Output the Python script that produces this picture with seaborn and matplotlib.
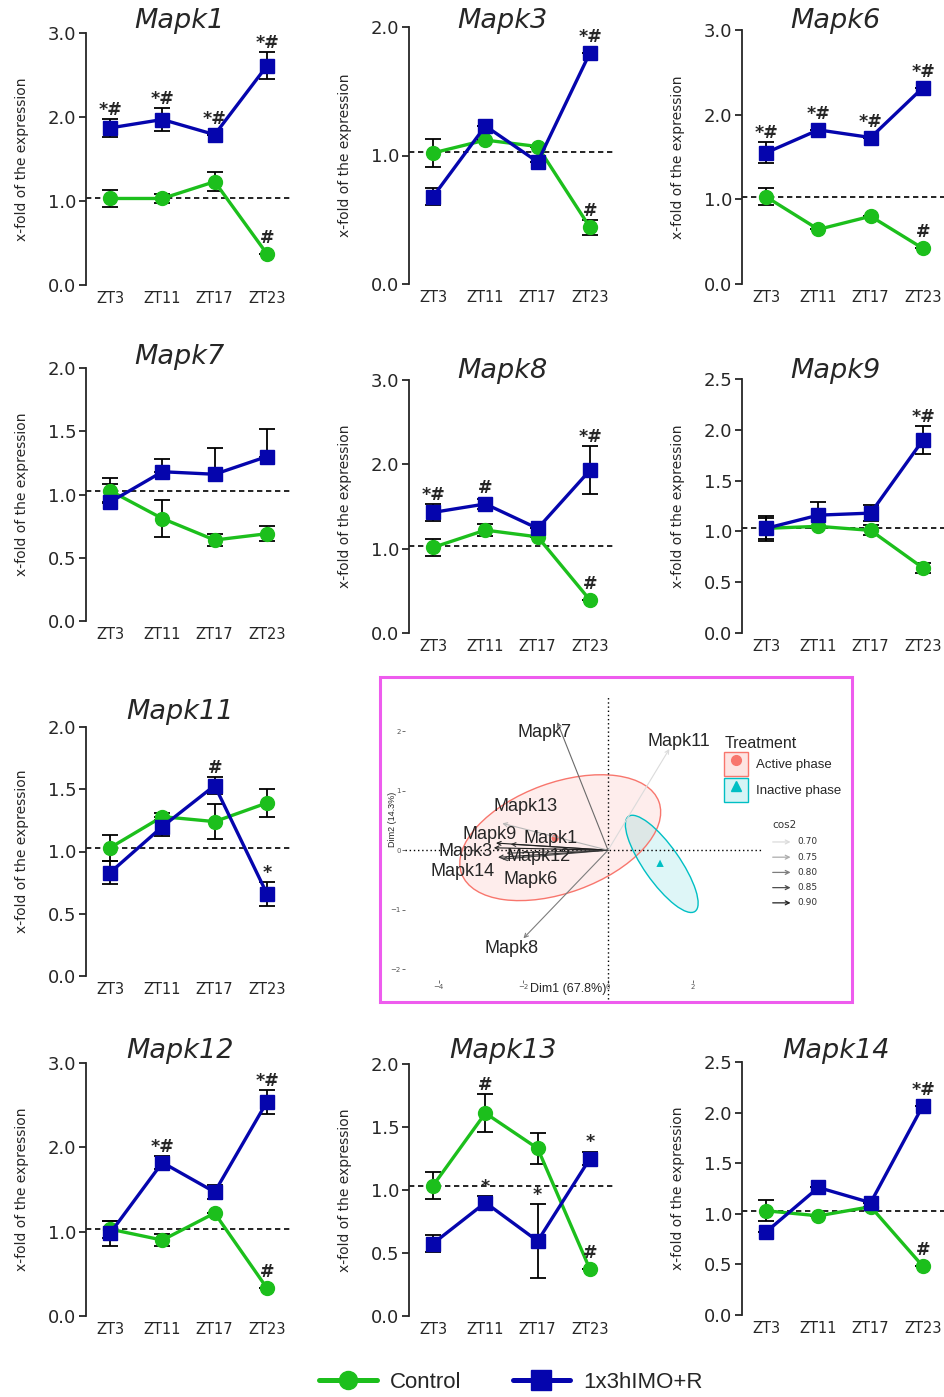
import matplotlib
matplotlib.use('Agg')
import matplotlib.pyplot as plt
import seaborn as sns
import numpy as np
import pandas as pd
from matplotlib.lines import Line2D
from matplotlib.patches import Patch, Rectangle, Ellipse
from matplotlib.legend_handler import HandlerTuple
from matplotlib.transforms import ScaledTranslation

# ---- data ----
zt = ['ZT3', 'ZT11', 'ZT17', 'ZT23']

ctrl_mapk1 = [1.03, 1.03, 1.23, 0.37]
ctrl_mapk1_err = [0.10, 0.05, 0.11, 0.0]
trt_mapk1 = [1.87, 1.97, 1.79, 2.61]
trt_mapk1_err = [0.11, 0.14, 0.0, 0.16]
ctrl_mapk1_sig = ['', '', '', '#']
trt_mapk1_sig = ['*#', '*#', '*#', '*#']

ctrl_mapk3 = [1.02, 1.12, 1.07, 0.44]
ctrl_mapk3_err = [0.11, 0.0, 0.0, 0.06]
trt_mapk3 = [0.68, 1.23, 0.95, 1.80]
trt_mapk3_err = [0.065, 0.0, 0.0, 0.0]
ctrl_mapk3_sig = ['', '', '', '#']
trt_mapk3_sig = ['', '', '', '*#']

ctrl_mapk6 = [1.03, 0.645, 0.80, 0.42]
ctrl_mapk6_err = [0.10, 0.0, 0.0, 0.0]
trt_mapk6 = [1.55, 1.82, 1.73, 2.32]
trt_mapk6_err = [0.125, 0.0, 0.0, 0.0]
ctrl_mapk6_sig = ['', '', '', '#']
trt_mapk6_sig = ['*#', '*#', '*#', '*#']

ctrl_mapk7 = [1.03, 0.81, 0.64, 0.69]
ctrl_mapk7_err = [0.10, 0.145, 0.045, 0.06]
trt_mapk7 = [0.94, 1.18, 1.16, 1.30]
trt_mapk7_err = [0.14, 0.10, 0.21, 0.22]
trt_mapk7_err_lo = [0.0, 0.0, 0.0, 0.0]
ctrl_mapk7_sig = ['', '', '', '']
trt_mapk7_sig = ['', '', '', '']

ctrl_mapk8 = [1.015, 1.22, 1.14, 0.39]
ctrl_mapk8_err = [0.10, 0.07, 0.0, 0.0]
trt_mapk8 = [1.43, 1.53, 1.24, 1.93]
trt_mapk8_err = [0.105, 0.06, 0.0, 0.285]
ctrl_mapk8_sig = ['', '', '', '#']
trt_mapk8_sig = ['*#', '#', '', '*#']

ctrl_mapk9 = [1.03, 1.05, 1.01, 0.64]
ctrl_mapk9_err = [0.10, 0.0, 0.05, 0.05]
trt_mapk9 = [1.03, 1.16, 1.18, 1.90]
trt_mapk9_err = [0.125, 0.13, 0.08, 0.135]
ctrl_mapk9_sig = ['', '', '', '']
trt_mapk9_sig = ['', '', '', '*#']

ctrl_mapk11 = [1.03, 1.28, 1.24, 1.39]
ctrl_mapk11_err = [0.105, 0.03, 0.14, 0.115]
trt_mapk11 = [0.83, 1.20, 1.53, 0.66]
trt_mapk11_err = [0.09, 0.075, 0.07, 0.095]
ctrl_mapk11_sig = ['', '', '', '']
trt_mapk11_sig = ['', '', '#', '*']

ctrl_mapk12 = [1.03, 0.90, 1.22, 0.33]
ctrl_mapk12_err = [0.10, 0.07, 0.0, 0.0]
trt_mapk12 = [0.98, 1.82, 1.47, 2.54]
trt_mapk12_err = [0.15, 0.08, 0.08, 0.145]
ctrl_mapk12_sig = ['', '', '', '#']
trt_mapk12_sig = ['', '*#', '', '*#']

ctrl_mapk13 = [1.035, 1.61, 1.33, 0.37]
ctrl_mapk13_err = [0.105, 0.15, 0.12, 0.0]
trt_mapk13 = [0.575, 0.90, 0.595, 1.25]
trt_mapk13_err = [0.065, 0.05, 0.29, 0.05]
ctrl_mapk13_sig = ['', '#', '', '#']
trt_mapk13_sig = ['', '*', '*', '*']

ctrl_mapk14 = [1.03, 0.98, 1.07, 0.48]
ctrl_mapk14_err = [0.105, 0.0, 0.0, 0.0]
trt_mapk14 = [0.82, 1.26, 1.11, 2.07]
trt_mapk14_err = [0.0, 0.0, 0.0, 0.0]
ctrl_mapk14_sig = ['', '', '', '#']
trt_mapk14_sig = ['', '', '', '*#']

# PCA biplot
pca_genes = ['Mapk1', 'Mapk3', 'Mapk6', 'Mapk7', 'Mapk8', 'Mapk9',
             'Mapk11', 'Mapk12', 'Mapk13', 'Mapk14']
pca_dim1 = [-2.30, -2.70, -2.50, -1.20, -2.00, -2.65, 1.45, -2.40, -2.50, -2.60]
pca_dim2 = [0.10, 0.04, -0.15, 2.15, -1.48, 0.12, 1.70, -0.05, 0.45, -0.12]
pca_cos2 = [0.86, 0.90, 0.86, 0.82, 0.80, 0.90, 0.70, 0.86, 0.74, 0.88]
label_dim1 = [-1.35, -3.38, -1.82, -1.51, -2.29, -2.81, 1.68, -1.65, -1.94, -3.45]
label_dim2 = [0.20, -0.03, -0.49, 1.98, -1.65, 0.27, 1.83, -0.10, 0.74, -0.35]
groups = ['Active phase', 'Inactive phase']
group_dim1 = [-1.25, 1.23]
group_dim2 = [0.20, -0.22]
cos2_levels = [0.70, 0.75, 0.80, 0.85, 0.90]

# ---- style ----
W, H = 944, 1397
GREEN = '#1cbf1c'
BLUE = '#0505ad'
RED = '#F8766D'
TEAL = '#00BFC4'
ARIAL = ['Liberation Sans', 'DejaVu Sans']

sns.set_style('ticks')
plt.rcParams['font.family'] = ['DejaVu Sans']

fig = plt.figure(figsize=(W / 100, H / 100), dpi=100)


def px_rect(x0, y0, x1, y1):
    return [x0 / W, 1 - y1 / H, (x1 - x0) / W, (y1 - y0) / H]


def cos2_gray(c):
    return str(round(0.86 - (c - 0.70) / 0.20 * 0.74, 3))


def draw_panel(name, ctrl, ctrl_err, trt, trt_err, ctrl_sig, trt_sig,
               ymax, step, box, trt_err_lo=None):
    left, top, bottom, title_y = box
    ax = fig.add_axes(px_rect(left, top, left + 204, bottom))
    x = np.arange(len(zt))
    df = pd.DataFrame({'x': x, 'ctrl': ctrl, 'trt': trt})
    lo = trt_err if trt_err_lo is None else trt_err_lo

    ax.axhline(1.03, color='black', ls=(0, (3.2, 2.2)), lw=1.2, zorder=1)
    ax.errorbar(x, ctrl, yerr=ctrl_err, fmt='none', ecolor='black',
                elinewidth=1.3, capsize=5.5, capthick=1.3, zorder=2)
    ax.errorbar(x, trt, yerr=[lo, trt_err], fmt='none', ecolor='black',
                elinewidth=1.3, capsize=5.5, capthick=1.3, zorder=2)
    sns.lineplot(data=df, x='x', y='ctrl', ax=ax, color=GREEN, lw=2.4,
                 marker='o', ms=10, mec=GREEN, mew=1, zorder=3, clip_on=False)
    sns.lineplot(data=df, x='x', y='trt', ax=ax, color=BLUE, lw=2.4,
                 marker='s', ms=10, mec=BLUE, mew=1, zorder=4, clip_on=False)

    ax.set_xlim(-0.46, 3.44)
    ax.set_ylim(0, ymax)
    ax.set_yticks(np.arange(0, ymax + 1e-9, step))
    ax.yaxis.set_major_formatter('{x:.1f}')
    ax.set_xticks(x, zt)
    for s in ['top', 'right', 'bottom']:
        ax.spines[s].set_visible(False)
    ax.spines['left'].set_linewidth(1.3)
    ax.tick_params(axis='y', labelsize=13, length=5, width=1.3, pad=2)
    ax.tick_params(axis='x', labelsize=10.5, length=0, pad=4)
    ax.set_xlabel('')
    ax.set_ylabel('x-fold of the expression', fontsize=10)
    ax.yaxis.set_label_coords(-0.28, 0.5)
    fig.text((left + 0.46 * 204) / W, 1 - title_y / H, name, ha='center',
             va='center', fontsize=19.5, style='italic')

    px_per_unit = (bottom - top) / ymax
    for vals, errs, sigs in [(ctrl, ctrl_err, ctrl_sig), (trt, trt_err, trt_sig)]:
        for xi, v, e, s in zip(x, vals, errs, sigs):
            if not s:
                continue
            off = (max(e * px_per_unit, 7) + 9) * 0.72
            ax.annotate(s, (xi, v), xytext=(0, off), textcoords='offset points',
                        ha='center', va='center', fontsize=12.5, fontweight='bold')
    return ax


draw_panel('Mapk1', ctrl_mapk1, ctrl_mapk1_err, trt_mapk1, trt_mapk1_err,
           ctrl_mapk1_sig, trt_mapk1_sig, 3.0, 1.0, (86, 33, 285, 21))
draw_panel('Mapk3', ctrl_mapk3, ctrl_mapk3_err, trt_mapk3, trt_mapk3_err,
           ctrl_mapk3_sig, trt_mapk3_sig, 2.0, 1.0, (409, 27, 284, 21))
draw_panel('Mapk6', ctrl_mapk6, ctrl_mapk6_err, trt_mapk6, trt_mapk6_err,
           ctrl_mapk6_sig, trt_mapk6_sig, 3.0, 1.0, (742, 30, 284, 21))
draw_panel('Mapk7', ctrl_mapk7, ctrl_mapk7_err, trt_mapk7, trt_mapk7_err,
           ctrl_mapk7_sig, trt_mapk7_sig, 2.0, 0.5, (86, 368, 621, 357),
           trt_err_lo=trt_mapk7_err_lo)
draw_panel('Mapk8', ctrl_mapk8, ctrl_mapk8_err, trt_mapk8, trt_mapk8_err,
           ctrl_mapk8_sig, trt_mapk8_sig, 3.0, 1.0, (409, 380, 633, 371))
draw_panel('Mapk9', ctrl_mapk9, ctrl_mapk9_err, trt_mapk9, trt_mapk9_err,
           ctrl_mapk9_sig, trt_mapk9_sig, 2.5, 0.5, (742, 379, 633, 371))
draw_panel('Mapk11', ctrl_mapk11, ctrl_mapk11_err, trt_mapk11, trt_mapk11_err,
           ctrl_mapk11_sig, trt_mapk11_sig, 2.0, 0.5, (86, 727, 976, 712))
draw_panel('Mapk12', ctrl_mapk12, ctrl_mapk12_err, trt_mapk12, trt_mapk12_err,
           ctrl_mapk12_sig, trt_mapk12_sig, 3.0, 1.0, (86, 1063, 1316, 1051))
draw_panel('Mapk13', ctrl_mapk13, ctrl_mapk13_err, trt_mapk13, trt_mapk13_err,
           ctrl_mapk13_sig, trt_mapk13_sig, 2.0, 0.5, (409, 1064, 1316, 1051))
draw_panel('Mapk14', ctrl_mapk14, ctrl_mapk14_err, trt_mapk14, trt_mapk14_err,
           ctrl_mapk14_sig, trt_mapk14_sig, 2.5, 0.5, (742, 1062, 1315, 1051))

# ---- PCA biplot ----
fig.add_artist(Rectangle((380 / W, 1 - 1002 / H), 472 / W, 325 / H,
                         transform=fig.transFigure, fill=False,
                         edgecolor='#ee5cee', lw=2.2))
pax = fig.add_axes(px_rect(405, 690, 762, 980))
pax.set_xlim(-4.8, 3.64)
pax.set_ylim(-2.18, 2.69)
for s in pax.spines.values():
    s.set_visible(False)
pax.axhline(0, color='black', ls=(0, (1, 2)), lw=1, zorder=1)
pax.axvline(0, ymin=-0.065, ymax=0.98, color='black', ls=(0, (1, 2)), lw=1,
            zorder=1, clip_on=False)

# confidence ellipses (size in inches, centred on data coords)
ell_dim1 = [-1.13, 1.27]
ell_dim2 = [0.21, -0.23]
ell_w = [2.10, 1.16]
ell_h = [1.10, 0.36]
ell_angle = [20, -55]
for cx, cy, w, h, a, col in zip(ell_dim1, ell_dim2, ell_w, ell_h, ell_angle, [RED, TEAL]):
    tr = fig.dpi_scale_trans + ScaledTranslation(cx, cy, pax.transData)
    pax.add_patch(Ellipse((0, 0), w, h, angle=a, transform=tr,
                          facecolor=col, alpha=0.13, edgecolor='none', zorder=0))
    pax.add_patch(Ellipse((0, 0), w, h, angle=a, transform=tr,
                          fill=False, edgecolor=col, lw=1, zorder=0.5))

sns.scatterplot(x=group_dim1, y=group_dim2, hue=groups, style=groups,
                markers=['o', '^'], palette=[RED, TEAL], s=28, legend=False,
                ax=pax, zorder=3, edgecolor='none')

for gx, gy, c in zip(pca_dim1, pca_dim2, pca_cos2):
    pax.annotate('', xy=(gx, gy), xytext=(0, 0),
                 arrowprops=dict(arrowstyle='->', color=cos2_gray(c), lw=0.8,
                                 shrinkA=0, shrinkB=0, mutation_scale=7))
for name, lx, ly in zip(pca_genes, label_dim1, label_dim2):
    pax.text(lx, ly, name, ha='center', va='center', fontsize=13,
             family=ARIAL, zorder=5)

pax.set_xticks([-4, -2, 0, 2])
pax.set_yticks([-2, -1, 0, 1, 2])
pax.tick_params(labelsize=5, length=2, width=0.6, pad=1, colors='#555555')
pax.set_xlabel('Dim1 (67.8%)', fontsize=9, family=ARIAL)
pax.xaxis.set_label_coords(0.458, -0.03)
pax.xaxis.label.set_va('center')
pax.set_ylabel('Dim2 (14.3%)', fontsize=6.5, family=ARIAL)
pax.yaxis.set_label_coords(-0.034, 0.555)
pax.yaxis.label.set_va('center')

tr_handles = [
    (Patch(facecolor='#fde4e2', edgecolor=RED, lw=1),
     Line2D([], [], marker='o', color=RED, ls='', ms=7)),
    (Patch(facecolor='#d6f4f5', edgecolor=TEAL, lw=1),
     Line2D([], [], marker='^', color=TEAL, ls='', ms=7)),
]
pax.legend(tr_handles, groups, handler_map={tuple: HandlerTuple(ndivide=1)},
           title='Treatment', loc='upper left', bbox_to_anchor=(0.88, 0.86),
           frameon=False, handlelength=1.8, handleheight=2.4,
           handletextpad=0.6, labelspacing=0.12, borderaxespad=0,
           prop={'family': ARIAL, 'size': 9.5},
           title_fontproperties={'family': ARIAL, 'size': 11.5},
           alignment='left')

pax.text(1.028, 0.534, 'cos2', transform=pax.transAxes, fontsize=7.5,
         ha='left', va='center', color='#333333')
for i, c in enumerate(cos2_levels):
    yy = 0.476 - i * 0.0525
    pax.annotate('', xy=(1.08, yy), xytext=(1.03, yy), xycoords='axes fraction',
                 arrowprops=dict(arrowstyle='->', color=cos2_gray(c), lw=0.9,
                                 shrinkA=0, shrinkB=0, mutation_scale=7))
    pax.text(1.098, yy, f'{c:.2f}', transform=pax.transAxes, fontsize=6.5,
             ha='left', va='center', color='#333333')

# ---- bottom legend ----
handles = [Line2D([], [], color=GREEN, lw=3.6, marker='o', ms=13),
           Line2D([], [], color=BLUE, lw=3.6, marker='s', ms=15)]
fig.legend(handles, ['Control', '1x3hIMO+R'], loc='center',
           bbox_to_anchor=(511 / W, 1 - 1382 / H), ncol=2, frameon=False,
           handlelength=2.6, handletextpad=0.6, columnspacing=2.3,
           prop={'family': ARIAL, 'size': 16})

fig.savefig('out.png', dpi=100)
